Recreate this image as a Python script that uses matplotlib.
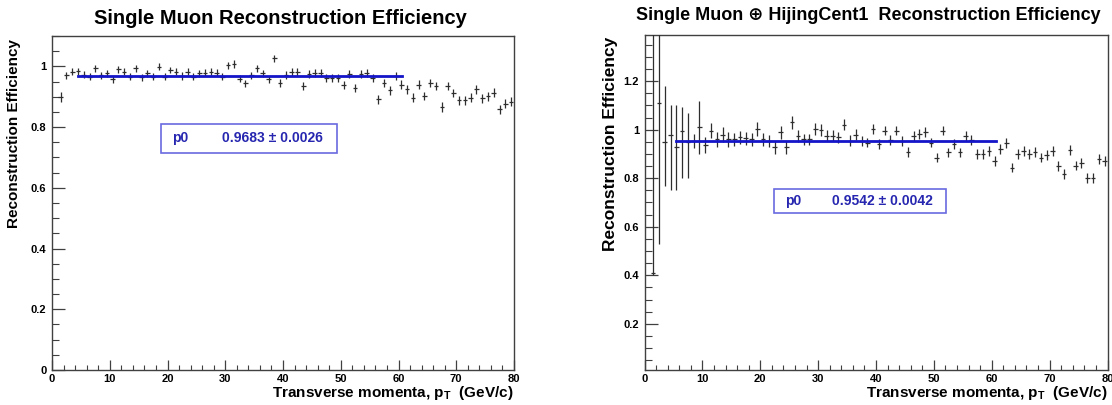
import matplotlib
matplotlib.use("Agg")
import matplotlib.pyplot as plt
import numpy as np
from matplotlib.ticker import MultipleLocator, FormatStrFormatter
from matplotlib.patches import Rectangle

plt.rcParams['font.family'] = ['Liberation Sans', 'DejaVu Sans']
plt.rcParams['font.weight'] = 'bold'
plt.rcParams['mathtext.fontset'] = 'custom'
plt.rcParams['mathtext.rm'] = 'Liberation Sans:bold'
plt.rcParams['mathtext.bf'] = 'Liberation Sans:bold'
plt.rcParams['mathtext.it'] = 'Liberation Sans:bold'

# ---------------- data ----------------
left_pt = np.arange(1.5, 80.0, 1.0)
left_eff = [0.900, 0.971, 0.982, 0.984, 0.973, 0.966, 0.993, 0.971, 0.977, 0.957,
            0.990, 0.982, 0.966, 0.993, 0.964, 0.977, 0.966, 0.999, 0.966, 0.988,
            0.982, 0.968, 0.982, 0.966, 0.977, 0.979, 0.982, 0.979, 0.966, 1.004,
            1.008, 0.960, 0.944, 0.971, 0.993, 0.977, 0.957, 1.026, 0.944, 0.971,
            0.982, 0.982, 0.935, 0.974, 0.977, 0.977, 0.963, 0.963, 0.963, 0.940,
            0.974, 0.930, 0.976, 0.979, 0.963, 0.891, 0.946, 0.921, 0.968, 0.940,
            0.924, 0.897, 0.940, 0.902, 0.946, 0.935, 0.866, 0.935, 0.913, 0.888,
            0.888, 0.897, 0.924, 0.895, 0.902, 0.913, 0.858, 0.877, 0.884]
left_err = [0.016, 0.012, 0.011, 0.011, 0.011, 0.011, 0.011, 0.011, 0.011, 0.011,
            0.011, 0.011, 0.011, 0.011, 0.011, 0.011, 0.011, 0.011, 0.011, 0.011,
            0.012, 0.012, 0.012, 0.012, 0.012, 0.012, 0.012, 0.012, 0.012, 0.012,
            0.012, 0.012, 0.012, 0.012, 0.012, 0.012, 0.012, 0.012, 0.013, 0.013,
            0.013, 0.013, 0.013, 0.013, 0.013, 0.013, 0.013, 0.013, 0.013, 0.013,
            0.013, 0.013, 0.013, 0.013, 0.013, 0.014, 0.014, 0.014, 0.014, 0.014,
            0.014, 0.014, 0.014, 0.014, 0.014, 0.014, 0.015, 0.014, 0.014, 0.015,
            0.015, 0.015, 0.015, 0.015, 0.015, 0.015, 0.015, 0.015, 0.015]
left_p0, left_p0_err = 0.9683, 0.0026
left_fit_range = (4.5, 60.6)

right_pt = np.arange(1.5, 80.0, 1.0)
right_eff = [0.410, 1.110, 0.950, 0.980, 0.930, 0.995, 0.950, 0.954, 1.010, 0.936,
             0.996, 0.960, 0.980, 0.960, 0.960, 0.968, 0.964, 0.960, 1.003, 0.960,
             0.954, 0.927, 0.989, 0.927, 1.030, 0.975, 0.960, 0.960, 1.003, 0.999,
             0.975, 0.975, 0.968, 1.020, 0.954, 0.980, 0.954, 0.947, 1.003, 0.940,
             0.996, 0.958, 0.996, 0.954, 0.909, 0.975, 0.982, 0.989, 0.947, 0.885,
             0.996, 0.906, 0.940, 0.906, 0.975, 0.957, 0.899, 0.899, 0.913, 0.871,
             0.920, 0.945, 0.844, 0.899, 0.913, 0.899, 0.909, 0.885, 0.895, 0.913,
             0.851, 0.816, 0.917, 0.852, 0.864, 0.802, 0.802, 0.878, 0.871]
right_err_lo = [0.010, 0.580, 0.180, 0.230, 0.180, 0.195, 0.150, 0.030, 0.110, 0.033,
                0.030, 0.030, 0.030, 0.030, 0.028, 0.028, 0.028, 0.028, 0.028, 0.026,
                0.026, 0.026, 0.026, 0.026, 0.026, 0.024, 0.024, 0.024, 0.024, 0.024,
                0.022, 0.022, 0.022, 0.022, 0.022, 0.022, 0.020, 0.020, 0.020, 0.020,
                0.020, 0.020, 0.020, 0.020, 0.020, 0.020, 0.020, 0.020, 0.020, 0.020,
                0.020, 0.020, 0.020, 0.020, 0.020, 0.020, 0.020, 0.020, 0.020, 0.020,
                0.020, 0.020, 0.020, 0.020, 0.020, 0.020, 0.020, 0.020, 0.020, 0.020,
                0.020, 0.020, 0.020, 0.020, 0.020, 0.020, 0.020, 0.020, 0.020]
right_err_hi = [1.200, 0.400, 0.230, 0.120, 0.170, 0.100, 0.120, 0.030, 0.110, 0.033,
                0.030, 0.030, 0.030, 0.030, 0.028, 0.028, 0.028, 0.028, 0.028, 0.026,
                0.026, 0.026, 0.026, 0.026, 0.026, 0.024, 0.024, 0.024, 0.024, 0.024,
                0.022, 0.022, 0.022, 0.022, 0.022, 0.022, 0.020, 0.020, 0.020, 0.020,
                0.020, 0.020, 0.020, 0.020, 0.020, 0.020, 0.020, 0.020, 0.020, 0.020,
                0.020, 0.020, 0.020, 0.020, 0.020, 0.020, 0.020, 0.020, 0.020, 0.020,
                0.020, 0.020, 0.020, 0.020, 0.020, 0.020, 0.020, 0.020, 0.020, 0.020,
                0.020, 0.020, 0.020, 0.020, 0.020, 0.020, 0.020, 0.020, 0.020]
right_p0, right_p0_err = 0.9542, 0.0042
right_fit_range = (5.4, 60.8)

left_title = "Single Muon Reconstruction Efficiency"
right_title = "Single Muon \u2295 HijingCent1  Reconstruction Efficiency"
ylabel = "Reconstruction Efficiency"
xlabel = r"Transverse momenta, p$_{\mathrm{T}}$  (GeV/c)"

# ---------------- layout ----------------
W, H = 1112, 405
fig = plt.figure(figsize=(W / 100, H / 100), dpi=100)
fig.patch.set_facecolor('white')

ax1 = fig.add_axes([52 / W, 1 - 370 / H, 462 / W, 334 / H])
ax2 = fig.add_axes([644.5 / W, 1 - 370 / H, 463 / W, 335 / H])

frame_col = '#404040'
mark_col = '#2e2e2e'
fit_col = '#1414c8'
box_txt = '#2626b0'
box_edge = '#6a6ae0'


def style(ax, ymin, ymax):
    ax.set_xlim(0, 80)
    ax.set_ylim(ymin, ymax)
    ax.xaxis.set_major_locator(MultipleLocator(10))
    ax.xaxis.set_minor_locator(MultipleLocator(2))
    ax.yaxis.set_major_locator(MultipleLocator(0.2))
    ax.yaxis.set_minor_locator(MultipleLocator(0.05))
    ax.yaxis.set_major_formatter(FormatStrFormatter('%g'))
    ax.xaxis.set_major_formatter(FormatStrFormatter('%g'))
    ax.tick_params(axis='x', which='major', direction='in', length=7, width=0.9,
                   color=frame_col, labelsize=8, pad=3)
    ax.tick_params(axis='x', which='minor', direction='in', length=3.5, width=0.8,
                   color=frame_col)
    ax.tick_params(axis='y', which='major', direction='in', length=9.5, width=0.9,
                   color=frame_col, labelsize=8, pad=4)
    ax.tick_params(axis='y', which='minor', direction='in', length=5, width=0.8,
                   color=frame_col)
    for lab in ax.get_xticklabels() + ax.get_yticklabels():
        lab.set_fontweight('bold')
    for s in ax.spines.values():
        s.set_color(frame_col)
        s.set_linewidth(1.0)


style(ax1, 0.0, 1.1)
style(ax2, 0.01, 1.39)

# left panel
ax1.errorbar(left_pt, left_eff, xerr=0.4, yerr=left_err, fmt='none',
             ecolor=mark_col, elinewidth=0.9, capsize=0, zorder=3)
ax1.plot(left_fit_range, [left_p0, left_p0], color=fit_col, lw=2.0, zorder=4)

# right panel
ax2.errorbar(right_pt, right_eff, xerr=0.4, yerr=[right_err_lo, right_err_hi],
             fmt='none', ecolor=mark_col, elinewidth=0.9, capsize=0, zorder=3)
ax2.plot(right_fit_range, [right_p0, right_p0], color=fit_col, lw=2.0, zorder=4)


def fitbox(ax, x0, y0, w, h, xp, xv, p0, err):
    ax.add_patch(Rectangle((x0, y0), w, h, transform=ax.transAxes,
                           facecolor='white', edgecolor=box_edge, lw=1.2, zorder=5))
    yc = y0 + h / 2
    ax.text(xp, yc, 'p0', transform=ax.transAxes, color=box_txt, fontsize=10,
            fontweight='bold', ha='left', va='center', zorder=6)
    ax.text(xv, yc, f'{p0:.4f} \u00b1 {err:.4f}', transform=ax.transAxes,
            color=box_txt, fontsize=10, fontweight='bold', ha='left', va='center',
            zorder=6)


fitbox(ax1, 0.236, 0.650, 0.381, 0.087, 0.259, 0.369, left_p0, left_p0_err)
fitbox(ax2, 0.280, 0.469, 0.371, 0.071, 0.303, 0.404, right_p0, right_p0_err)

# titles
fig.text(280 / W, 1 - 19 / H, left_title, ha='center', va='center',
         fontsize=14.5, fontweight='bold')
fig.text(868 / W, 1 - 16 / H, right_title, ha='center', va='center',
         fontsize=13, fontweight='bold')

# y labels
fig.text(14 / W, 1 - 39 / H, ylabel, rotation=90, ha='center', va='top',
         fontsize=11, fontweight='bold')
fig.text(610 / W, 1 - 37 / H, ylabel, rotation=90, ha='center', va='top',
         fontsize=12.5, fontweight='bold')

# x labels
fig.text(513 / W, 1 - 393 / H, xlabel, ha='right', va='center',
         fontsize=11, fontweight='bold')
fig.text(1107 / W, 1 - 393 / H, xlabel, ha='right', va='center',
         fontsize=11, fontweight='bold')

fig.savefig('out.png', dpi=100, facecolor='white')
